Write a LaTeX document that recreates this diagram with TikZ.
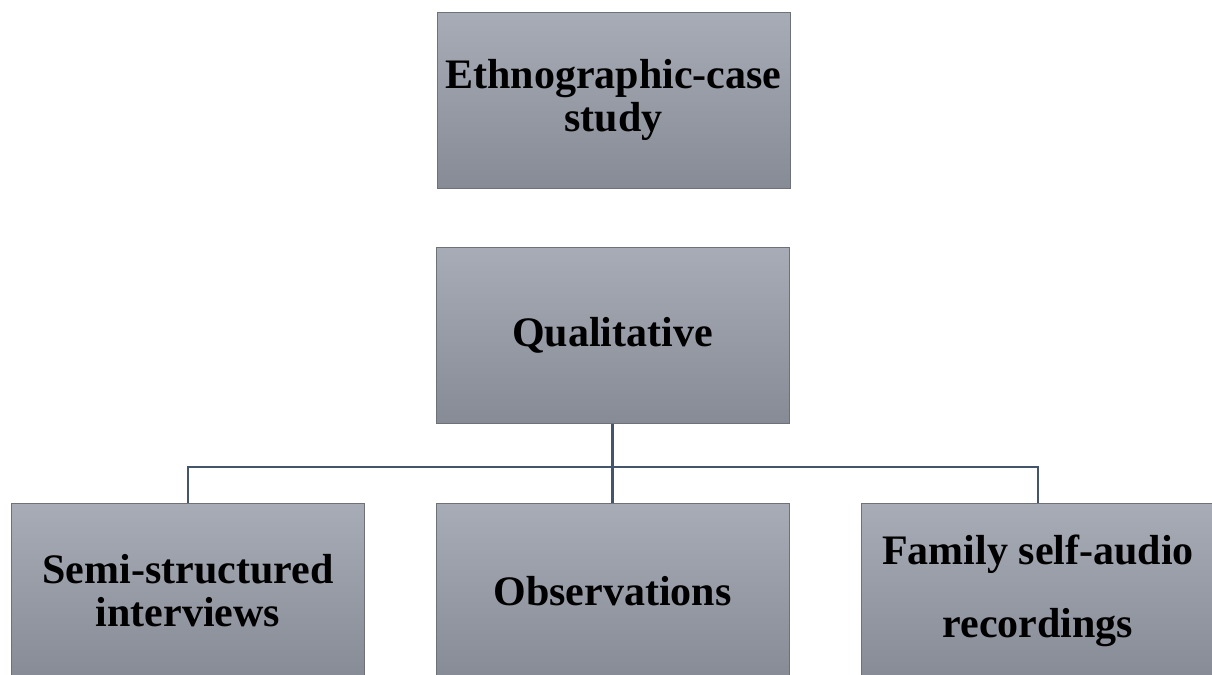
\documentclass[tikz,border=0pt]{standalone}
\usepackage{fontspec}
\setmainfont{Liberation Serif}
\usetikzlibrary{positioning}
\definecolor{box-top}{RGB}{168, 172, 182}
\definecolor{box-bottom}{RGB}{134, 139, 149}
\definecolor{box-edge}{RGB}{110, 113, 120}
\definecolor{link-slate}{RGB}{68, 84, 106}

\tikzset{
  stage/.style={rectangle, draw=box-edge, line width=0.5pt,
    top color=box-top, bottom color=box-bottom,
    minimum width=176.5pt, minimum height=88pt, inner sep=0pt,
    align=center, font=\fontsize{21}{21.5}\selectfont\bfseries},
  link/.style={draw=link-slate, line width=1.3pt}
}

\begin{document}
\begin{tikzpicture}[x=0.5pt, y=-0.5pt]
\useasboundingbox (0,0) rectangle (1212,675);
\node[stage] (ethno) at (613.5,100) {Ethnographic-case\\study};
\node[stage] (qual) at (612.5,335) {Qualitative};
\node[stage] (semi) at (188,591) {Semi-structured\\interviews};
\node[stage] (obs) at (612.5,591) {Observations};
\node[stage, font=\fontsize{21}{36.5}\selectfont\bfseries] (fam) at (1038,591) {Family self-audio\\recordings};
\coordinate (bus) at (612.5,467);
\draw[link] (qual.south) -- (obs.north);
\draw[link] (semi.north) |- (bus) -| (fam.north);
\end{tikzpicture}
\end{document}
